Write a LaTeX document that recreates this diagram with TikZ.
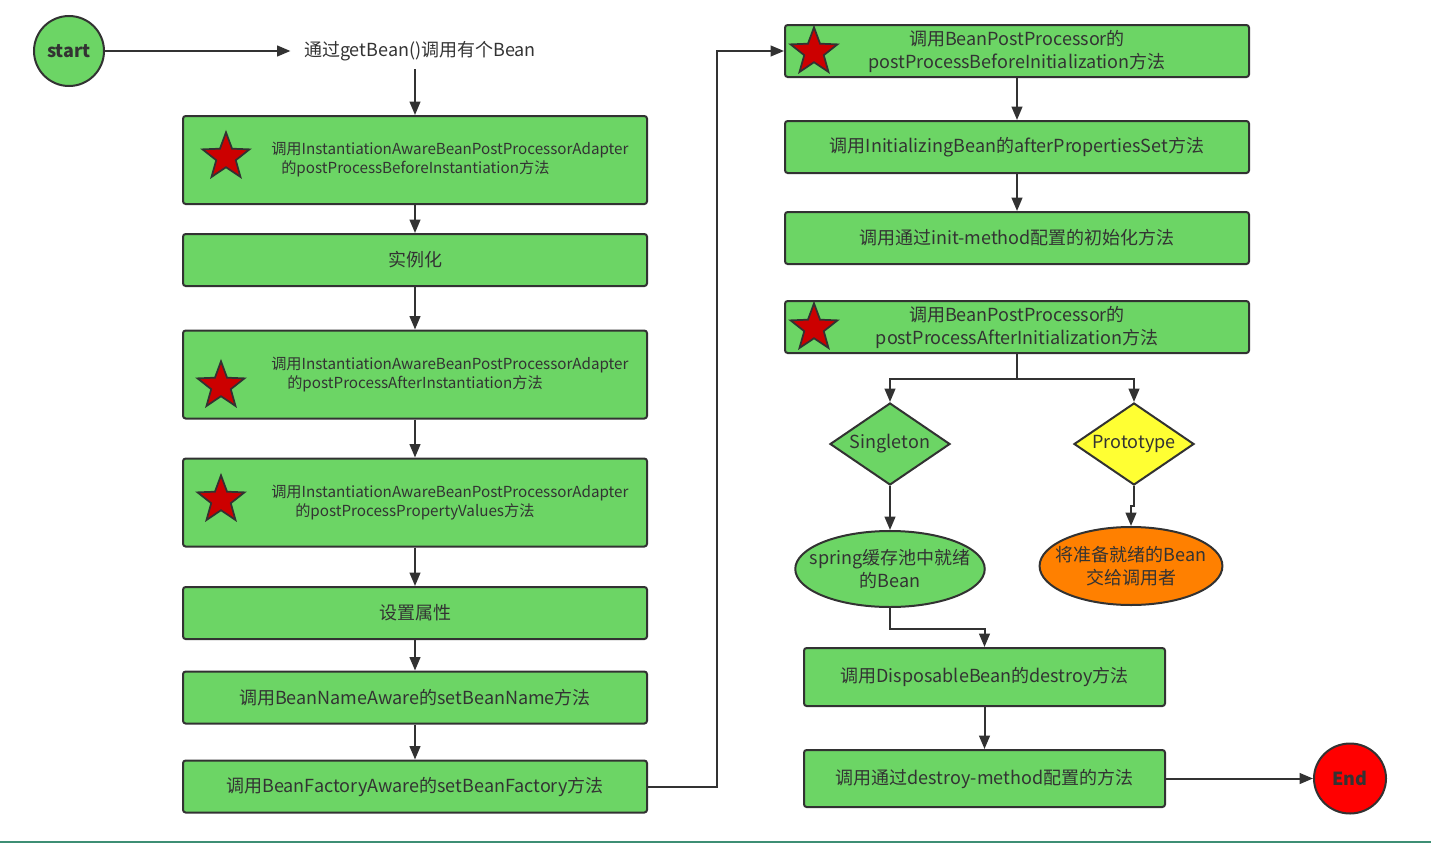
\documentclass[tikz,border=0pt]{standalone}
\usepackage{fontspec}
\setmainfont{Noto Sans CJK SC}
\usepackage{tikz}
\usetikzlibrary{shapes.geometric,arrows.meta}
\usepackage{xcolor}
\definecolor{boxgreen}{HTML}{6CD565}
\definecolor{linegray}{HTML}{323232}
\definecolor{textgray}{HTML}{333333}
\definecolor{starred}{HTML}{CC0000}
\definecolor{protoyellow}{HTML}{FFFF33}
\definecolor{beanorange}{HTML}{FF8000}
\definecolor{endred}{HTML}{FF0000}
\definecolor{footteal}{HTML}{3E8E74}

\tikzset{
  box/.style={draw=linegray, fill=boxgreen, line width=1.5pt, rounded corners=2pt, minimum width=348pt, minimum height=39pt, inner sep=0pt, text=textgray, align=center, font=\fontsize{13.5}{17.25}\selectfont},
  tallbox/.style={box, minimum height=66pt},
  redstar/.style={star, star points=5, star point ratio=2.4, minimum size=37pt, inner sep=0pt, draw=linegray, fill=starred, line width=1.3pt},
  smalltext/.style={text=textgray, align=left, anchor=west, inner sep=0pt, font=\fontsize{11.4}{14.25}\selectfont},
  terminal/.style={ellipse, draw=linegray, line width=1.5pt, inner sep=0pt, text=textgray, font=\fontsize{13.5}{16}\selectfont\bfseries},
  choice/.style={diamond, aspect=1.46, draw=linegray, line width=1.5pt, inner sep=0pt, minimum width=90pt, minimum height=61.5pt, text=textgray, font=\fontsize{13.5}{16}\selectfont},
  bean/.style={ellipse, draw=linegray, line width=1.5pt, inner ysep=0pt, align=center, text=textgray, font=\fontsize{13.5}{17.25}\selectfont},
  flow/.style={draw=linegray, line width=1.5pt, -{Triangle[length=10pt,width=8pt]}}
}

\begin{document}
\begin{tikzpicture}[x=0.75pt,y=0.75pt,yscale=-1,xscale=1]
\useasboundingbox (0,0) rectangle (1431,846);

%Shape: Circle [start]
\draw (69,51) node [terminal, fill=boxgreen, minimum width=52.5pt, minimum height=52.5pt] (start) {start};
% Text Node
\draw (420,51) node [text=textgray, inner xsep=10pt, inner ysep=6pt, font=\fontsize{13.5}{16}\selectfont] (getbean) {通过getBean()调用有个Bean};

%Shape: Rectangle [left column]
\draw (415,160) node [tallbox] (b1) {};
\draw (415,260) node [box] (b2) {实例化};
\draw (415,374.5) node [tallbox] (b3) {};
\draw (415,502.5) node [tallbox] (b4) {};
\draw (415,613) node [box] (b5) {设置属性};
\draw (415,697.5) node [box] (b6) {调用BeanNameAware的setBeanName方法};
\draw (415,786.5) node [box] (b7) {调用BeanFactoryAware的setBeanFactory方法};

%Shape: Star
\draw (226,157) node [redstar] (s1) {};
\draw (221,386) node [redstar] (s3) {};
\draw (221,500) node [redstar] (s4) {};

% Text Node
\draw (271,160) node [smalltext] (t1) {调用InstantiationAwareBeanPostProcessorAdapter\\\hspace*{7.5pt}的postProcessBeforeInstantiation方法};
% Text Node
\draw (271,375) node [smalltext] (t3) {调用InstantiationAwareBeanPostProcessorAdapter\\\hspace*{12pt}的postProcessAfterInstantiation方法};
% Text Node
\draw (271,503) node [smalltext] (t4) {调用InstantiationAwareBeanPostProcessorAdapter\\\hspace*{18pt}的postProcessPropertyValues方法};

%Shape: Rectangle [right column]
\draw (1017,51) node [box] (r1) {调用BeanPostProcessor的\\postProcessBeforeInitialization方法};
\draw (1017,147) node [box] (r2) {调用InitializingBean的afterPropertiesSet方法};
\draw (1017,238) node [box] (r3) {调用通过init-method配置的初始化方法};
\draw (1017,327) node [box] (r4) {调用BeanPostProcessor的\\postProcessAfterInitialization方法};
\draw (814,52) node [redstar] (rs1) {};
\draw (814,328) node [redstar] (rs4) {};

%Shape: Diamond
\draw (890,444) node [choice, fill=boxgreen] (single) {Singleton};
\draw (1134,444) node [choice, fill=protoyellow] (proto) {Prototype};

%Shape: Ellipse
\draw (890,569) node [bean, fill=boxgreen, inner xsep=-10pt, minimum width=141pt, minimum height=57pt] (sbean) {spring缓存池中就绪\\的Bean};
\draw (1131,566) node [bean, fill=beanorange, inner xsep=-8pt, minimum width=136.5pt, minimum height=58.5pt] (pbean) {将准备就绪的Bean\\交给调用者};

%Shape: Rectangle [destroy]
\draw (984.5,677) node [box, minimum width=270.75pt, minimum height=43.5pt] (r5) {调用DisposableBean的destroy方法};
\draw (984.5,778.5) node [box, minimum width=270.75pt, minimum height=42.75pt] (r6) {调用通过destroy-method配置的方法};

%Shape: Circle [end]
\draw (1350,778.5) node [terminal, fill=endred, minimum width=54pt, minimum height=52.5pt] (end) {End};

%Straight Lines
\draw [flow] (start) -- (getbean);
\draw [flow] (b1.north |- getbean.south) -- (b1);
\draw [flow] (b1) -- (b2);
\draw [flow] (b2) -- (b3);
\draw [flow] (b3) -- (b4);
\draw [flow] (b4) -- (b5);
\draw [flow] (b5) -- (b6);
\draw [flow] (b6) -- (b7);
\draw [flow] (b7.east) -- ++(69,0) |- (r1.west);
\draw [flow] (r1) -- (r2);
\draw [flow] (r2) -- (r3);
\draw [flow] (r4.south) -- ++(0,25) -| (single.north);
\draw [flow] (r4.south) -- ++(0,25) -| (proto.north);
\draw [flow] (single) -- (sbean);
\draw [flow] (proto.south) -- ++(0,20) -| (pbean.north);
\draw [flow] (sbean.south) -- ++(0,21) -| (r5.north);
\draw [flow] (r5) -- (r6);
\draw [flow] (r6) -- (end);

%Shape: Line [bottom]
\draw [footteal, line width=1.5pt] (0,842) -- (1431,842);

\end{tikzpicture}
\end{document}
